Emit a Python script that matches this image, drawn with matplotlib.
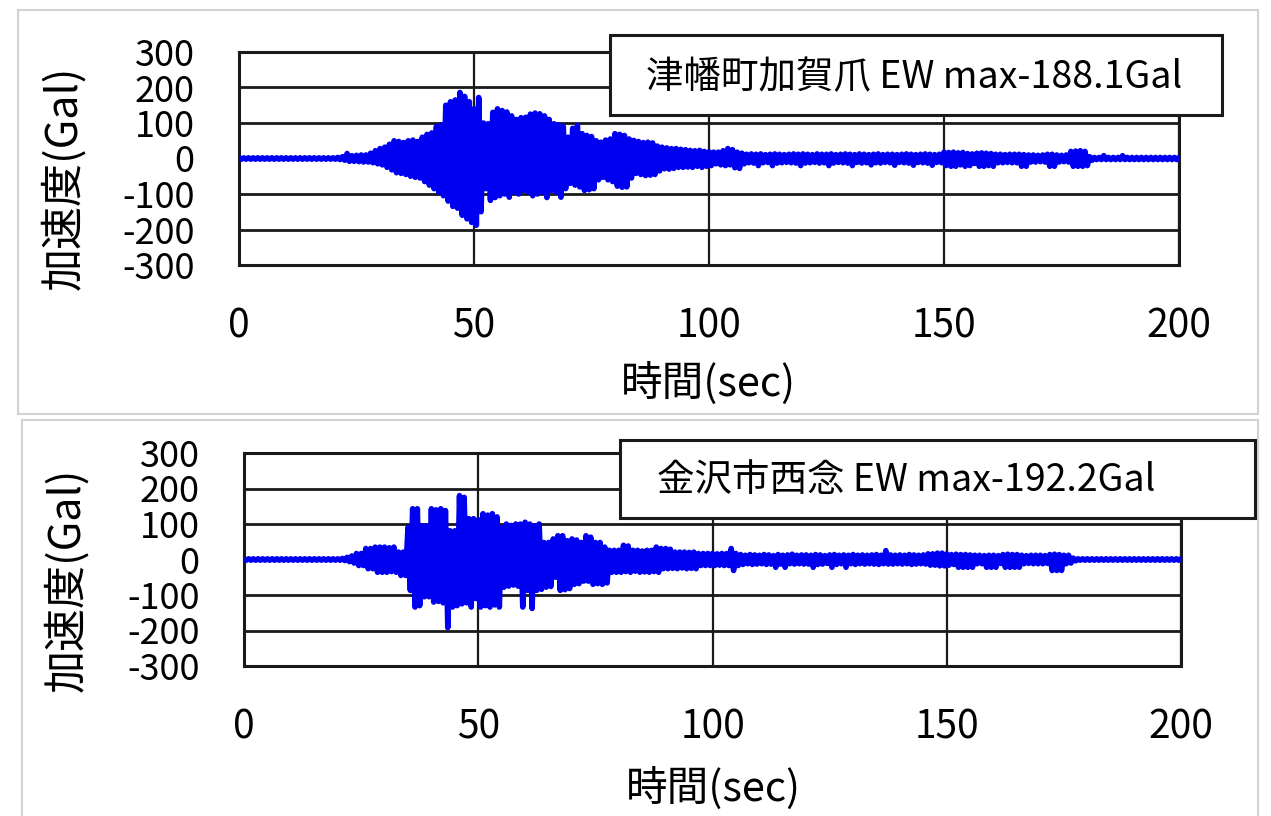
import numpy as np
import matplotlib.pyplot as plt
from matplotlib.patches import Rectangle

plt.rcParams['font.family'] = ['Noto Sans CJK JP', 'DejaVu Sans']
plt.rcParams['axes.unicode_minus'] = False

W, H = 1271, 816

# 1秒ごとの最大・最小加速度 (Gal), t = 0..200 s
tsubata_upper = [2] * 20 + [
    2, 3, 5, 14, 8, 9, 10, 10, 15, 22,
    28, 32, 40, 50, 48, 45, 50, 52, 48, 60,
    68, 72, 90, 95, 150, 160, 165, 186, 175, 160,
    140, 172, 100, 98, 130, 140, 135, 131, 120, 110,
    115, 116, 125, 128, 126, 120, 110, 98, 95, 90,
    60, 85, 93, 70, 65, 62, 50, 46, 52, 55,
    70, 68, 65, 55, 51, 48, 45, 46, 44, 35,
    32, 30, 28, 28, 26, 25, 23, 22, 23, 20,
    19, 18, 18, 22, 28, 25, 18, 15, 12, 13,
    12, 13, 11, 12, 13, 12, 11, 12, 13, 12,
    13, 12, 11, 13, 12, 12, 13, 11, 12, 13,
    12, 11, 13, 12, 11, 12, 13, 11, 12, 12,
    11, 12, 13, 12, 11, 12, 13, 12, 11, 12,
    18, 17, 18, 16, 17, 14, 13, 15, 16, 15,
    14, 12, 12, 11, 12, 12, 12, 11, 10, 10,
    9, 10, 12, 12, 10, 9, 10, 20, 21, 22,
    20, 5, 3, 3, 8, 3, 3, 3, 8, 3,
] + [3] * 11
tsubata_lower = [-2] * 20 + [
    -2, -3, -5, -8, -8, -9, -10, -10, -12, -15,
    -18, -25, -32, -40, -42, -45, -50, -53, -55, -65,
    -75, -85, -95, -105, -120, -135, -140, -160, -170, -180,
    -188, -150, -85, -118, -110, -105, -100, -109, -95, -100,
    -90, -95, -105, -100, -95, -110, -90, -95, -109, -85,
    -70, -75, -80, -90, -88, -85, -60, -53, -60, -65,
    -78, -81, -80, -55, -42, -45, -48, -47, -45, -35,
    -29, -30, -28, -25, -25, -24, -25, -22, -25, -22,
    -20, -15, -18, -20, -18, -26, -28, -15, -12, -13,
    -20, -12, -11, -20, -13, -12, -11, -12, -13, -20,
    -13, -12, -11, -13, -12, -20, -13, -11, -12, -13,
    -20, -11, -13, -12, -18, -12, -13, -11, -12, -19,
    -11, -12, -13, -19, -11, -12, -13, -19, -11, -12,
    -20, -22, -22, -18, -22, -20, -14, -22, -22, -20,
    -22, -12, -12, -11, -12, -12, -22, -22, -10, -10,
    -9, -10, -22, -22, -10, -9, -10, -22, -22, -22,
    -20, -5, -3, -3, -3, -3, -3, -3, -3, -3,
] + [-3] * 11

kanazawa_upper = [2] * 20 + [
    2, 3, 6, 10, 17, 17, 31, 31, 35, 35,
    35, 33, 35, 21, 21, 90, 143, 143, 95, 95,
    143, 140, 143, 138, 81, 81, 180, 175, 115, 115,
    112, 129, 125, 129, 120, 90, 100, 96, 100, 100,
    105, 100, 95, 100, 48, 48, 58, 67, 67, 53,
    58, 55, 48, 67, 63, 48, 48, 35, 26, 26,
    26, 40, 38, 26, 26, 24, 26, 26, 35, 31,
    31, 29, 21, 21, 21, 20, 21, 17, 17, 17,
    17, 16, 17, 17, 31, 17, 14, 12, 14, 13,
    12, 14, 13, 11, 14, 12, 13, 15, 12, 13,
    13, 12, 14, 13, 11, 13, 14, 12, 13, 12,
    14, 12, 13, 12, 13, 14, 12, 25, 13, 12,
    13, 12, 14, 13, 12, 13, 16, 16, 18, 18,
    16, 14, 15, 14, 14, 13, 12, 12, 11, 12,
    12, 11, 14, 15, 14, 14, 12, 11, 12, 12,
    12, 11, 14, 15, 14, 12, 12, 4, 2, 2,
] + [2] * 21
kanazawa_lower = [-2] * 20 + [
    -2, -3, -6, -10, -17, -17, -26, -26, -36, -36,
    -36, -34, -36, -45, -45, -87, -134, -130, -105, -105,
    -120, -118, -122, -192, -134, -130, -125, -122, -134, -110,
    -134, -130, -134, -128, -134, -78, -75, -72, -75, -134,
    -87, -138, -87, -84, -78, -76, -50, -87, -85, -82,
    -70, -68, -61, -61, -70, -68, -70, -66, -36, -36,
    -36, -34, -36, -33, -36, -35, -36, -34, -36, -26,
    -26, -25, -26, -24, -26, -25, -26, -17, -17, -17,
    -17, -16, -17, -17, -31, -17, -14, -12, -14, -13,
    -12, -14, -13, -22, -13, -22, -12, -13, -12, -13,
    -13, -22, -14, -13, -11, -22, -14, -12, -22, -12,
    -14, -12, -13, -12, -13, -14, -12, -13, -13, -12,
    -13, -12, -14, -13, -12, -13, -16, -16, -18, -18,
    -16, -14, -22, -22, -22, -22, -12, -12, -22, -22,
    -22, -11, -22, -22, -22, -22, -12, -11, -12, -12,
    -12, -11, -31, -31, -31, -12, -10, -4, -2, -2,
] + [-2] * 21

titles = ['津幡町加賀爪 EW max-188.1Gal', '金沢市西念 EW max-192.2Gal']
x_ticks = [0, 50, 100, 150, 200]
y_ticks = [-300, -200, -100, 0, 100, 200, 300]


def fx(x):
    return x / W


def fy(y):
    return 1 - y / H


fig = plt.figure(figsize=(W / 100, H / 100), dpi=100)

# パネル枠
fig.patches.append(Rectangle((fx(18), fy(414)), fx(1240), 404 / H, transform=fig.transFigure,
                             fill=False, edgecolor='#d2d2d2', lw=1.5))
fig.patches.append(Rectangle((fx(22), fy(830)), fx(1236), 410 / H, transform=fig.transFigure,
                             fill=False, edgecolor='#d2d2d2', lw=1.5))

panels = [
    dict(rect=(239, 52, 1179, 265), up=tsubata_upper, lo=tsubata_lower, title=titles[0],
         box=(610, 35, 1222, 115), tx=646, ty=78, ylab=(64, 178), xlab=(708, 383)),
    dict(rect=(244, 453, 1181, 666), up=kanazawa_upper, lo=kanazawa_lower, title=titles[1],
         box=(620, 440, 1255, 518), tx=657, ty=480, ylab=(67, 580), xlab=(713, 788)),
]

for p in panels:
    x0, y0, x1, y1 = p['rect']
    ax = fig.add_axes([fx(x0), fy(y1), (x1 - x0) / W, (y1 - y0) / H])
    t = np.arange(len(p['up']))
    xs = np.column_stack([t, t + 0.5]).ravel()
    ys = np.column_stack([p['up'], p['lo']]).ravel()
    ax.plot(xs, ys, color='#0000f0', lw=4.0, solid_joinstyle='round',
            solid_capstyle='butt', zorder=3)

    ax.set_xlim(0, 200)
    ax.set_ylim(-300, 300)
    ax.set_xticks(x_ticks)
    ax.set_yticks(y_ticks)
    ax.yaxis.grid(True, color='#1a1a1a', lw=2.0)
    ax.xaxis.grid(True, color='#1a1a1a', lw=1.6)
    ax.set_axisbelow(True)
    for s in ax.spines.values():
        s.set_linewidth(2.2)
        s.set_color('#1a1a1a')
    ax.tick_params(axis='y', length=0, labelsize=26, pad=32)
    ax.tick_params(axis='x', length=0, labelsize=28, pad=30)

    fig.text(fx(p['ylab'][0]), fy(p['ylab'][1]), '加速度(Gal)', rotation=90,
             ha='center', va='center', fontsize=31)
    fig.text(fx(p['xlab'][0]), fy(p['xlab'][1]), '時間(sec)',
             ha='center', va='center', fontsize=30)

    bx0, by0, bx1, by1 = p['box']
    fig.patches.append(Rectangle((fx(bx0), fy(by1)), (bx1 - bx0) / W, (by1 - by0) / H,
                                 transform=fig.transFigure, facecolor='white',
                                 edgecolor='#1a1a1a', lw=2.2, zorder=5))
    fig.text(fx(p['tx']), fy(p['ty']), p['title'], ha='left', va='center',
             fontsize=27, zorder=6)

fig.savefig('out.png', dpi=100)
